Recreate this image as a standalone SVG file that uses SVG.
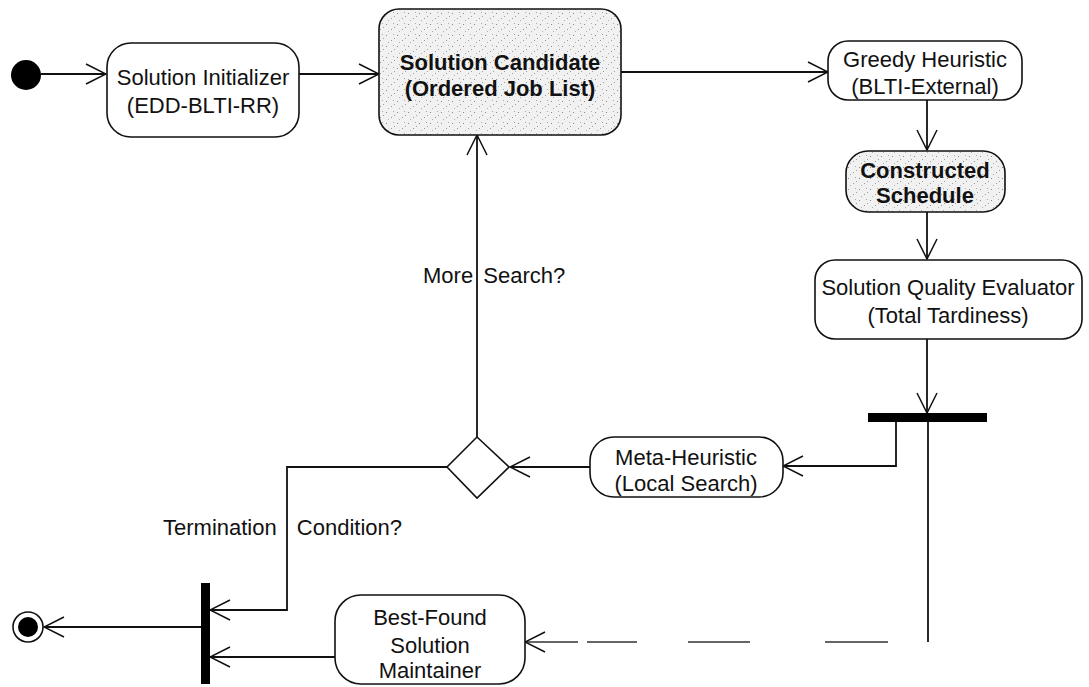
<svg xmlns="http://www.w3.org/2000/svg" width="1089" height="687" viewBox="0 0 1089 687">
  <style>
    .node { fill: #ffffff; stroke: #111111; stroke-width: 1.6; }
    .shaded { fill: url(#stipple); stroke: #111111; stroke-width: 1.6; }
    .label { font-family: "Liberation Sans", Arial, sans-serif; font-size: 22px; fill: #111111; text-anchor: middle; }
    .strong { font-weight: bold; }
    .guard { font-family: "Liberation Sans", Arial, sans-serif; font-size: 22px; fill: #111111; }
    .edge { fill: none; stroke: #111111; stroke-width: 1.8; }
    .faint { fill: none; stroke: #333333; stroke-width: 1.4; }
    .bar { fill: #000000; }
  </style>
  <defs>
    <marker id="open" viewBox="0 0 22 22" refX="21" refY="11" markerWidth="22" markerHeight="22" markerUnits="userSpaceOnUse" orient="auto">
      <path d="M1,1 L21,11 L1,21" fill="none" stroke="#111111" stroke-width="1.5"/>
    </marker>
    <pattern id="stipple" width="11" height="11" patternUnits="userSpaceOnUse">
      <rect width="11" height="11" fill="#f1f1f1"/>
      <rect x="1" y="2" width="1" height="1" fill="#8a8a8a"/>
      <rect x="6" y="7" width="1" height="1" fill="#9a9a9a"/>
      <rect x="8" y="1" width="1" height="1" fill="#aaaaaa"/>
      <rect x="3" y="9" width="1" height="1" fill="#b0b0b0"/>
      <rect x="9" y="5" width="1" height="1" fill="#9e9e9e"/>
    </pattern>
  </defs>

  <!-- control flow -->
  <g id="connectors">
    <path class="edge" d="M41,74 H106" marker-end="url(#open)"/>
    <path class="edge" d="M299,74 H379" marker-end="url(#open)"/>
    <path class="edge" d="M621,72 H828" marker-end="url(#open)"/>
    <path class="edge" d="M927,100 V150" marker-end="url(#open)"/>
    <path class="edge" d="M927,212 V259" marker-end="url(#open)"/>
    <path class="edge" d="M927,339 V413" marker-end="url(#open)"/>
    <path class="edge" d="M896,422 V466 H783" marker-end="url(#open)"/>
    <path class="edge" d="M590,467 H510" marker-end="url(#open)"/>
    <path class="edge" d="M477,437 V135" marker-end="url(#open)"/>
    <path class="edge" d="M447,467 H287 V610 H210" marker-end="url(#open)"/>
    <path class="edge" d="M928,422 V642"/>
    <path class="faint" d="M928,642 H525" stroke-dasharray="0 40 63 75 62 51 50 9 60" marker-end="url(#open)"/>
    <path class="edge" d="M335,657 H210" marker-end="url(#open)"/>
    <path class="edge" d="M201,627 H44" marker-end="url(#open)"/>
    <text class="guard" x="423" y="283" word-spacing="4">More Search?</text>
    <text class="guard" x="163" y="535" word-spacing="14">Termination Condition?</text>
  </g>

  <g id="start">
    <circle cx="26" cy="75" r="15" fill="#000000"/>
  </g>

  <g id="solution-initializer">
    <rect class="node" x="107" y="43" width="192" height="94" rx="24"/>
    <text class="label" x="203" y="85">Solution Initializer</text>
    <text class="label" x="203" y="113">(EDD-BLTI-RR)</text>
  </g>

  <g id="solution-candidate">
    <rect class="shaded" x="379" y="9" width="242" height="126" rx="20"/>
    <text class="label strong" x="500" y="70">Solution Candidate</text>
    <text class="label strong" x="500" y="96">(Ordered Job List)</text>
  </g>

  <g id="greedy-heuristic">
    <rect class="node" x="828" y="41" width="194" height="59" rx="20"/>
    <text class="label" x="925" y="67">Greedy Heuristic</text>
    <text class="label" x="925" y="94">(BLTI-External)</text>
  </g>

  <g id="constructed-schedule">
    <rect class="shaded" x="846" y="151" width="159" height="61" rx="22"/>
    <text class="label strong" x="925" y="178">Constructed</text>
    <text class="label strong" x="925" y="203">Schedule</text>
  </g>

  <g id="quality-evaluator">
    <rect class="node" x="815" y="260" width="267" height="79" rx="20"/>
    <text class="label" x="948" y="295">Solution Quality Evaluator</text>
    <text class="label" x="948" y="323">(Total Tardiness)</text>
  </g>

  <g id="fork">
    <rect class="bar" x="868" y="413" width="119" height="9"/>
  </g>

  <g id="meta-heuristic">
    <rect class="node" x="590" y="437" width="193" height="60" rx="24"/>
    <text class="label" x="686" y="465">Meta-Heuristic</text>
    <text class="label" x="686" y="491">(Local Search)</text>
  </g>

  <g id="decision">
    <polygon class="node" points="477,437 509,467 477,498 447,467" stroke-width="2"/>
  </g>

  <g id="best-found-maintainer">
    <rect class="node" x="335" y="595" width="190" height="89" rx="26"/>
    <text class="label" x="430" y="625">Best-Found</text>
    <text class="label" x="430" y="653" fill="#555555">Solution</text>
    <text class="label" x="430" y="678">Maintainer</text>
  </g>

  <g id="join">
    <rect class="bar" x="201" y="583" width="9" height="101"/>
  </g>

  <g id="end">
    <circle cx="28" cy="627" r="15" fill="#ffffff" stroke="#111111" stroke-width="1.6"/>
    <circle cx="28" cy="627" r="10" fill="#000000"/>
  </g>
</svg>
